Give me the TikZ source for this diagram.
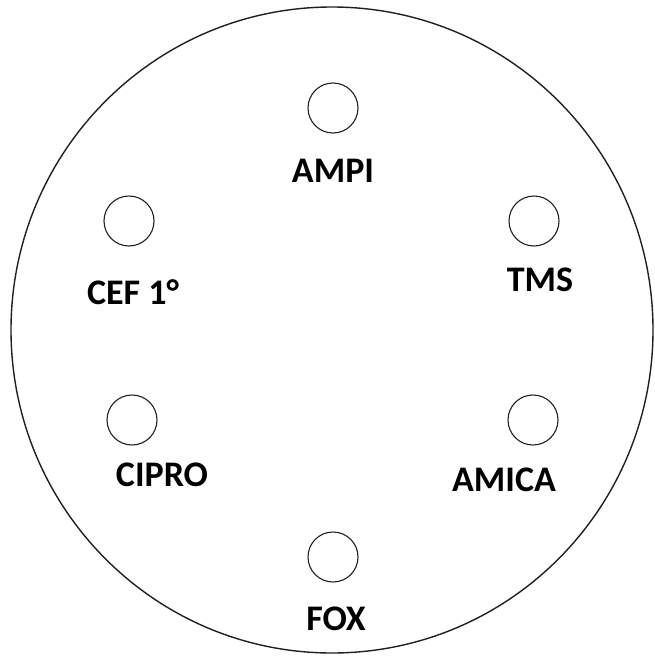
\documentclass[tikz,border=0pt]{standalone}
\usepackage{fontspec}
\setmainfont{Carlito}
\definecolor{cInk}{HTML}{231F20}

\begin{document}
\begin{tikzpicture}[
  x=1pt, y=-1pt,
  well/.style={draw=cInk, circle, line width=1.1pt, minimum size=50pt, inner sep=0pt},
  tag/.style={font=\fontsize{36}{40}\selectfont\bfseries, text=black, anchor=base, inner sep=0pt},
]
\useasboundingbox (0,0) rectangle (654,656);

% ---------------- plate ----------------
\draw[cInk, line width=1.4pt] (332,330) ellipse [x radius=321, y radius=323];

% ---------------- wells ----------------
\node[well] (ampi)  at (333,108) {};
\node[well] (cef)   at (129,221) {};
\node[well] (tms)   at (534,221) {};
\node[well] (cipro) at (132,420) {};
\node[well] (amica) at (533,420) {};
\node[well] (fox)   at (333,557) {};

% ---------------- labels ----------------
\node[tag] (ampiL)  at (333,182) {AMPI};
\node[tag] (cefL)   at (133,304) {CEF 1°};
\node[tag] (tmsL)   at (540,291) {TMS};
\node[tag] (ciproL) at (162,486) {CIPRO};
\node[tag] (amicaL) at (504,491) {AMICA};
\node[tag] (foxL)   at (336,630) {FOX};

\end{tikzpicture}
\end{document}
